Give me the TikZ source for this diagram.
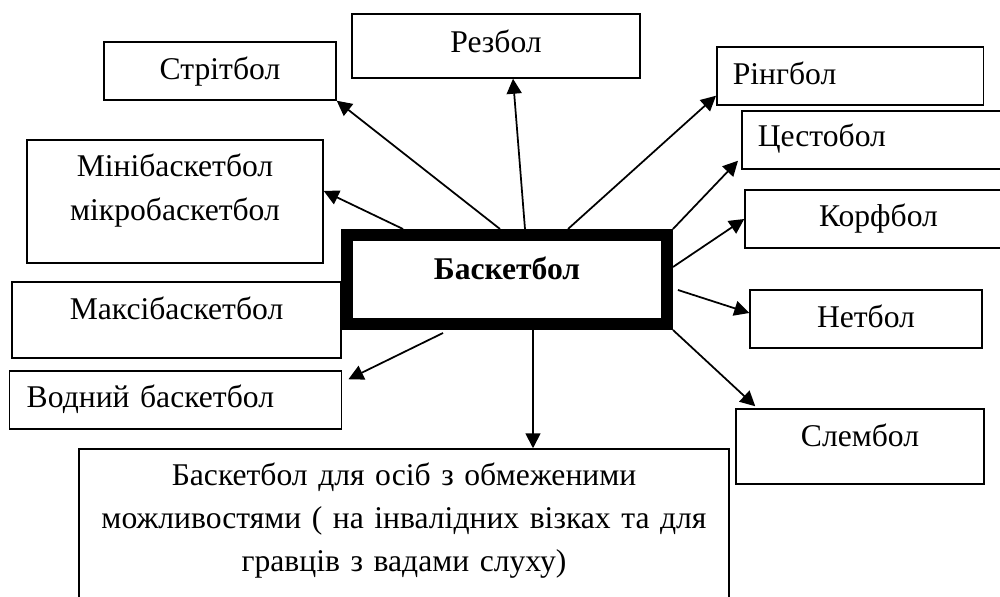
\documentclass[tikz,border=0pt]{standalone}
\usepackage{fontspec}
\setmainfont{Liberation Serif}
\usetikzlibrary{arrows.meta}

\tikzset{
	sport/.style = {draw, line width = 0.03cm, inner sep = 0pt, anchor = base,
		align = center, font = \fontsize{18}{24.5}\selectfont},
	sportleft/.style = {sport, anchor = base west, align = left},
	hub/.style = {draw, line width = 0.24cm, inner sep = 0pt, anchor = base,
		font = \fontsize{18}{24.5}\selectfont\bfseries}
}

\begin{document}
\begin{tikzpicture}[x = 0.02cm, y = -0.02cm, > = {Triangle[length = 0.3cm, width = 0.3cm]}]

	\useasboundingbox (0, 0) rectangle (1000, 597);
	\clip (0, 0) rectangle (1000, 597);

	% centre
	\node [hub, minimum width = 6.4cm, text height = 0.9cm, text depth = 0.88cm] (hub) at (507, 280) {Баскетбол};

	% upper row
	\node [sport, minimum width = 4.64cm, text height = 0.76cm, text depth = 0.4cm] (strit) at (220, 80) {Стрітбол};
	\node [sport, minimum width = 5.76cm, text height = 0.78cm, text depth = 0.5cm] (rez) at (496, 53) {Резбол};

	% right column
	\node [sportleft, text width = 4.7cm, inner xsep = 0.32cm, text height = 0.76cm, text depth = 0.4cm] (ring) at (716, 85) {Рінгбол};
	\node [sportleft, text width = 4.78cm, inner xsep = 0.32cm, text height = 0.72cm, text depth = 0.44cm] (cesto) at (741, 147) {Цестобол};
	\node [sport, minimum width = 5.34cm, text height = 0.74cm, text depth = 0.42cm] (korf) at (878.5, 227) {Корфбол};
	\node [sport, minimum width = 4.64cm, text height = 0.76cm, text depth = 0.4cm] (net) at (866, 328) {Нетбол};
	\node [sport, minimum width = 4.96cm, text height = 0.74cm, text depth = 0.76cm] (slem) at (860, 446) {Слембол};

	% left column
	\node [sport, text width = 5.92cm, text height = 0.74cm, text depth = 1.72cm] (mini) at (175, 177) {Мінібаскетбол\\мікробаскетбол};
	\node [sport, minimum width = 6.58cm, text height = 0.76cm, text depth = 0.76cm] (maxi) at (176.5, 320) {Максібаскетбол};
	\node [sportleft, text width = 5.96cm, inner xsep = 0.34cm, text height = 0.74cm, text depth = 0.42cm] (vodn) at (9, 408) {Водний баскетбол};

	% bottom
	\node [sport, text width = 13cm, text height = 0.72cm, text depth = 2.8cm] (dis) at (404, 485) {Баскетбол для осіб з обмеженими\\можливостями ( на інвалідних візках та для\\гравців з вадами слуху)};

	\begin{scope}[->, line width = 0.035cm]

		\draw ([xshift = -0.14cm] hub.north) -- (strit.south east);
		\draw ([xshift = -2.08cm] hub.north) -- ([yshift = 0.21cm] mini.east);
		\draw ([xshift = 0.36cm] hub.north) -- ([xshift = 0.34cm] rez.south);
		\draw ([xshift = 1.22cm] hub.north) -- ([yshift = 0.2cm] ring.south west);
		\draw (hub.north east) -- ([xshift = -0.06cm, yshift = 0.18cm] cesto.south west);
		\draw ([yshift = 0.25cm] hub.east) -- (korf.west);
		\draw ([xshift = 0.1cm, yshift = -0.21cm] hub.east) -- ([yshift = 0.12cm] net.west);
		\draw (hub.south east) -- ([xshift = 0.4cm, yshift = 0.04cm] slem.north west);
		\draw ([xshift = 0.52cm] hub.south) -- ([xshift = 0.52cm] hub.south |- dis.north);
		\draw ([xshift = -1.28cm, yshift = -0.06cm] hub.south) -- ([xshift = 0.12cm, yshift = -0.18cm] vodn.north east);

	\end{scope}

\end{tikzpicture}
\end{document}
